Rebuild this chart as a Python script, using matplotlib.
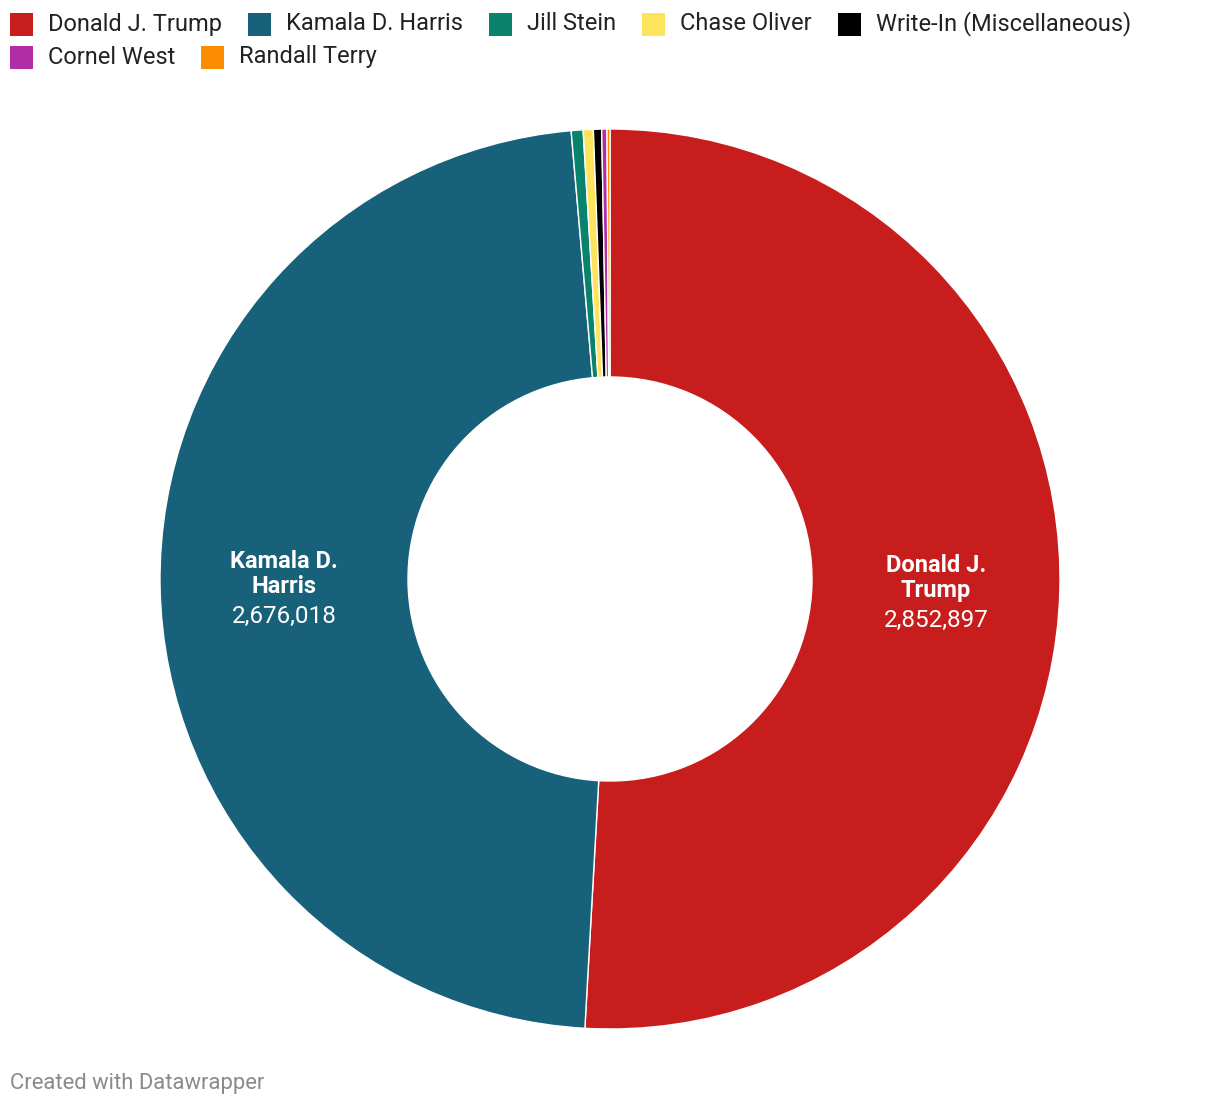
import numpy as np
import matplotlib.pyplot as plt

# Ergebnisse (Stimmen), Reihenfolge im Uhrzeigersinn ab 12 Uhr
candidates = ['Donald J. Trump', 'Kamala D. Harris', 'Jill Stein', 'Chase Oliver',
              'Write-In (Miscellaneous)', 'Cornel West', 'Randall Terry']
votes = [2852897, 2676018, 23800, 20400, 16500, 10500, 6000]
colors = ['#c71e1d', '#18617b', '#09836b', '#fee35c', '#000000', '#b22ca6', '#fb8c00']
labeled = ['Donald J.\nTrump', 'Kamala D.\nHarris', None, None, None, None, None]

plt.rcParams['font.family'] = ['Roboto', 'DejaVu Sans']

W, H = 1220, 1106
fig = plt.figure(figsize=(W / 100, H / 100), dpi=100)
ax = fig.add_axes([0, 0, 1, 1])

cx, cy, r = 610, H - 579, 450
ring = 248
wedges, _ = ax.pie(votes, colors=colors, startangle=90, counterclock=False,
                   center=(cx, cy), radius=r,
                   wedgeprops=dict(width=ring, edgecolor='white', linewidth=1))
ax.set_xlim(0, W)
ax.set_ylim(0, H)
ax.set_aspect('equal')
ax.axis('off')

# Beschriftung der grossen Segmente
for w, lab, v in zip(wedges, labeled, votes):
    if lab is None:
        continue
    ang = np.deg2rad((w.theta1 + w.theta2) / 2)
    rm = r - ring / 2
    x = cx + rm * np.cos(ang)
    y = cy + rm * np.sin(ang)
    ax.text(x, y + 10, lab, ha='center', va='center', color='white',
            fontsize=17, fontweight='bold', linespacing=1.1)
    ax.text(x, y - 32, f'{v:,}', ha='center', va='center', color='white', fontsize=17.5)

# Legende von Hand (wie Datawrapper)
rows = [candidates[:5], candidates[5:]]
fig.canvas.draw()
renderer = fig.canvas.get_renderer()
k = 0
for ri, row in enumerate(rows):
    x = 10
    yc = H - (24 + ri * 33)
    for name in row:
        ax.add_patch(plt.Rectangle((x, yc - 11.5), 23, 23, color=colors[k], lw=0))
        t = ax.text(x + 38, yc, name, ha='left', va='center', fontsize=17, color='#222222')
        bb = t.get_window_extent(renderer)
        x = bb.x1 + 26
        k += 1

ax.text(10, H - 1083, 'Created with Datawrapper', ha='left', va='center',
        fontsize=15.8, color='#8a8a8a')

fig.savefig('out.png', dpi=100)
